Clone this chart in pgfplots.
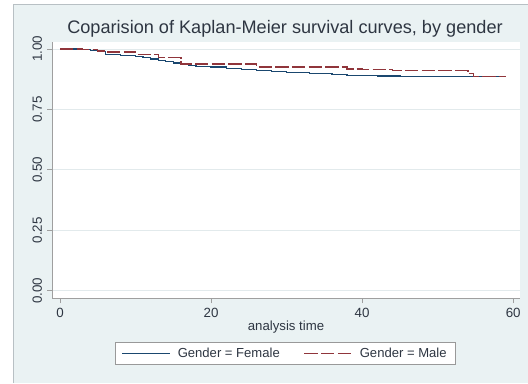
\documentclass[border=0pt]{standalone}
\usepackage{pgfplots}
\pgfplotsset{compat=1.18}
\usepackage{fontspec}
\setmainfont{Liberation Sans}

\definecolor{graphbg}{HTML}{EAF2F3}
\definecolor{femaleblue}{HTML}{1A476F}
\definecolor{malered}{HTML}{90353B}
\definecolor{framegray}{HTML}{B8C0C4}
\definecolor{gridcol}{HTML}{E2EAEC}
\definecolor{textdark}{HTML}{2E3642}

\begin{document}
\begin{tikzpicture}
\useasboundingbox (0,0) rectangle (396pt,287.25pt);
\fill[white] (0,0) rectangle (396pt,287.25pt);
% graph region
\fill[graphbg] (9.75pt,0) rectangle (396pt,284.25pt);
\draw[framegray, line width=0.6pt] (9.75pt,0) -- (9.75pt,284.25pt) -- (396pt,284.25pt);

\begin{axis}[
  at={(39pt,63.75pt)}, anchor=south west,
  scale only axis, width=351pt, height=192pt,
  xmin=-1.06, xmax=60.9, ymin=-0.030, ymax=1.029,
  axis background/.style={fill=white},
  axis x line*=bottom, axis y line*=left,
  axis line style={-, draw=gray!75, line width=0.6pt},
  tick style={draw=gray!75, line width=0.6pt},
  tick align=outside, major tick length=3.75pt,
  xtick={0,20,40,60},
  ytick={0,0.25,0.5,0.75,1},
  yticklabels={0.00,0.25,0.50,0.75,1.00},
  ymajorgrids, grid style={gridcol, line width=0.6pt},
  /pgf/number format/assume math mode=true,
  ticklabel style={font=\fontsize{10}{12}\selectfont, text=textdark},
  yticklabel style={xshift=-3.5pt, rotate=90, anchor=south, inner sep=0pt},
  xticklabel style={inner sep=0pt, yshift=-3.5pt, anchor=north},
  xlabel={analysis time},
  x label style={at={(axis description cs:0.5,-0.113)}, anchor=center,
    font=\fontsize{9.9}{12}\selectfont, text=textdark},
  legend columns=2,
  legend style={at={(axis description cs:0.499,-0.217)}, anchor=center,
    draw=gray!80, fill=white, line width=0.5pt,
    font=\fontsize{9.8}{12}\selectfont, text=textdark,
    inner xsep=4.5pt, inner ysep=2pt,
    /tikz/every odd column/.append style={column sep=3pt},
    /tikz/every even column/.append style={column sep=16pt}},
  legend image code/.code={\draw[#1] (0pt,0pt) -- (36pt,0pt);},
]
% Female
\addplot[const plot, femaleblue, line width=1pt] coordinates {
 (0,1.000) (3,0.998) (4,0.994) (5,0.990) (6,0.976) (8,0.972) (10,0.968)
 (11,0.964) (12,0.958) (13,0.952) (14,0.947) (15,0.942) (16,0.937)
 (17,0.933) (18,0.929) (20,0.925) (22,0.920) (24,0.916) (26,0.911)
 (28,0.907) (30,0.903) (33,0.898) (36,0.895) (38,0.891) (42,0.889)
 (45,0.886) (50,0.885) (59,0.885)
};
\addlegendentry{Gender = Female}
% Male
\addplot[const plot, malered, line width=1pt, dash pattern=on 10pt off 2.5pt] coordinates {
 (0,1.000) (3,0.997) (5,0.992) (6,0.988) (10,0.976) (13,0.964) (16,0.938)
 (26,0.925) (38,0.918) (40,0.914) (44,0.910) (54,0.900) (54.7,0.886) (59,0.886)
};
\addlegendentry{Gender = Male}
\end{axis}

\node[anchor=base, font=\fontsize{13.6}{16}\selectfont, text=textdark]
  at (213.75pt,262.3pt) {Coparision of Kaplan-Meier survival curves, by gender};
\end{tikzpicture}
\end{document}
